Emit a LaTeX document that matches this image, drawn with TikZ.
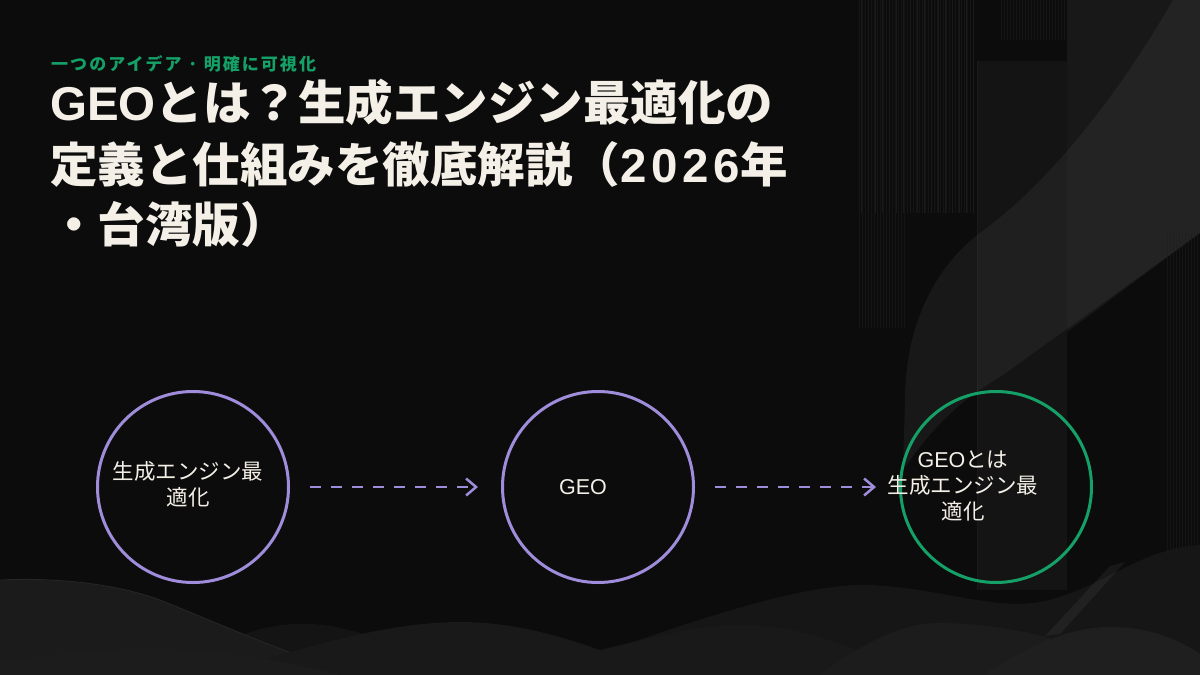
\documentclass[tikz,border=0pt]{standalone}
\usepackage{fontspec}
\setmainfont{Noto Sans CJK JP}
\newfontfamily\lat{Liberation Sans}
\newfontfamily\latwide[LetterSpace=10]{Liberation Sans}
\newfontfamily\subjp[LetterSpace=12]{Noto Sans CJK JP}
\newfontfamily\circjp{Noto Sans CJK JP}
\newfontfamily\circlat{Liberation Sans}
\usetikzlibrary{arrows.meta}
\definecolor{bgcol}{HTML}{0C0C0C}
\definecolor{stripecol}{HTML}{151515}
\definecolor{stripecolb}{HTML}{1A1A1A}
\definecolor{panelc}{HTML}{141414}
\definecolor{regd}{HTML}{181818}
\definecolor{purp}{HTML}{9F8DDB}
\definecolor{grn}{HTML}{14A067}
\definecolor{ink}{HTML}{F4F0E8}
\definecolor{hilla}{HTML}{161616}
\definecolor{hillb}{HTML}{1B1B1B}
\definecolor{hillc}{HTML}{141414}
\definecolor{hilld}{HTML}{191919}
\definecolor{hille}{HTML}{1C1C1C}
\definecolor{hillf}{HTML}{1F1F1F}
\definecolor{hilledge}{HTML}{262626}
\tikzset{
  stripe/.style={line width=0.6pt, draw=stripecol},
  stripeb/.style={line width=0.6pt, draw=stripecolb},
  ringp/.style={circle, draw=purp, line width=3pt, minimum size=191pt, inner sep=0pt},
  ringg/.style={circle, draw=grn, line width=3pt, minimum size=191pt, inner sep=0pt},
  ctext/.style={text=ink, align=center, inner sep=0pt, font=\fontsize{21.5}{26}\circjp},
  titletext/.style={text=ink, anchor=base west, inner sep=0pt, font=\fontsize{47.5}{60}\bfseries},
  subtext/.style={text=grn, anchor=base west, inner sep=0pt, font=\fontsize{17}{20}\subjp\bfseries},
  hilltop/.style={draw=hilledge, line width=0.8pt},
  dasharrow/.style={draw=purp, line width=2.5pt, dash pattern=on 11pt off 10pt,
    -{Straight Barb[length=10pt,width=17pt]}, shorten <=20pt, shorten >=23pt}
}
\begin{document}
\begin{tikzpicture}[x=1pt,y=-1pt]
\useasboundingbox (0,0) rectangle (1200,675);
\fill[bgcol] (0,0) rectangle (1200,675);
% ---- right decorations ----
\foreach \x in {859,862,...,975} \draw[stripe] (\x,0) -- (\x,213);
\foreach \x in {859,862,...,905} \draw[stripe] (\x,213) -- (\x,328);
\foreach \x in {861,868,...,975} \draw[stripeb] (\x,0) -- (\x,213);
\foreach \x in {1001,1004,...,1067} \draw[stripe] (\x,0) -- (\x,40);
\fill[panelc] (977,61) rectangle (1067,590);
\draw[stripecolb, line width=1pt] (977.5,61) -- (977.5,590);
\fill[regd] (1067,0) -- (1200,0) -- (1200,233) -- (1067,332) -- cycle;
\foreach \x in {1167,1170,...,1200} \draw[stripe] (\x,233) -- (\x,560);
\fill[white, opacity=0.05] (1173,0) .. controls (1130,75) and (1060,175) .. (980,233)
  .. controls (925,275) and (905,340) .. (905,400) -- (903,470)
  .. controls (930,430) and (960,400) .. (1000,377) -- (1200,233) -- (1200,0) -- cycle;
% ---- bottom hills ----
\fill[hilla] (540,675) .. controls (640,640) and (790,582) .. (870,585)
  .. controls (940,588) and (990,610) .. (1040,602)
  .. controls (1100,590) and (1140,548) .. (1200,545) -- (1200,675) -- cycle;
\fill[hillc] (180,675) -- (230,640) .. controls (260,626) and (290,623) .. (310,624)
  .. controls (340,625) and (370,635) .. (400,648) -- (420,675) -- cycle;
\fill[hillb] (0,580) .. controls (60,577) and (120,585) .. (160,600)
  .. controls (230,628) and (300,660) .. (360,675) -- (0,675) -- cycle;
\draw[hilltop] (0,580) .. controls (60,577) and (120,585) .. (160,600)
  .. controls (230,628) and (300,660) .. (360,675);
\fill[hilld] (262,675) -- (270,658) .. controls (330,640) and (400,622) .. (460,622)
  .. controls (520,622) and (570,640) .. (600,650)
  .. controls (650,638) and (700,625) .. (740,625)
  .. controls (790,625) and (830,640) .. (860,652) -- (900,675) -- cycle;
\fill[hille] (820,675) .. controls (860,645) and (900,623) .. (937,623)
  .. controls (980,623) and (1020,630) .. (1050,638) -- (1080,675) -- cycle;
\fill[white, opacity=0.05] (1045,636) -- (1110,566) -- (1125,562) -- (1060,634) -- cycle;
\fill[hillf] (983,675) .. controls (1030,645) and (1070,627) .. (1110,627)
  .. controls (1150,627) and (1180,640) .. (1200,654) -- (1200,675) -- cycle;
\fill[hille] (0,662) .. controls (60,652) and (120,648) .. (160,649)
  .. controls (220,650) and (280,660) .. (340,675) -- (0,675) -- cycle;
% ---- titles ----
\node[subtext] (sub) at (51,70) {一つのアイデア · 明確に可視化};
\node[titletext] (ti1) at (50,120) {{\lat GEO}とは？生成エンジン最適化の};
\node[titletext] (ti2) at (50,182) {定義と仕組みを徹底解説（{\latwide 2026}年};
\node[titletext] (ti3) at (50,242) {・台湾版）};
% ---- diagram ----
\node[ringp] (c1) at (193,487) {};
\node[ringp] (c2) at (598,487) {};
\node[ringg] (c3) at (996,487) {};
\node[ctext] (l1) at (188,484) {生成エンジン最\\適化};
\node[ctext] (l2) at (583,487) {\circlat GEO};
\node[ctext] (l3) at (963,486) {{\circlat GEO}とは\\生成エンジン最\\適化};
\draw[dasharrow] (c1) -- (c2);
\draw[dasharrow] (c2) -- (c3);
\end{tikzpicture}
\end{document}
